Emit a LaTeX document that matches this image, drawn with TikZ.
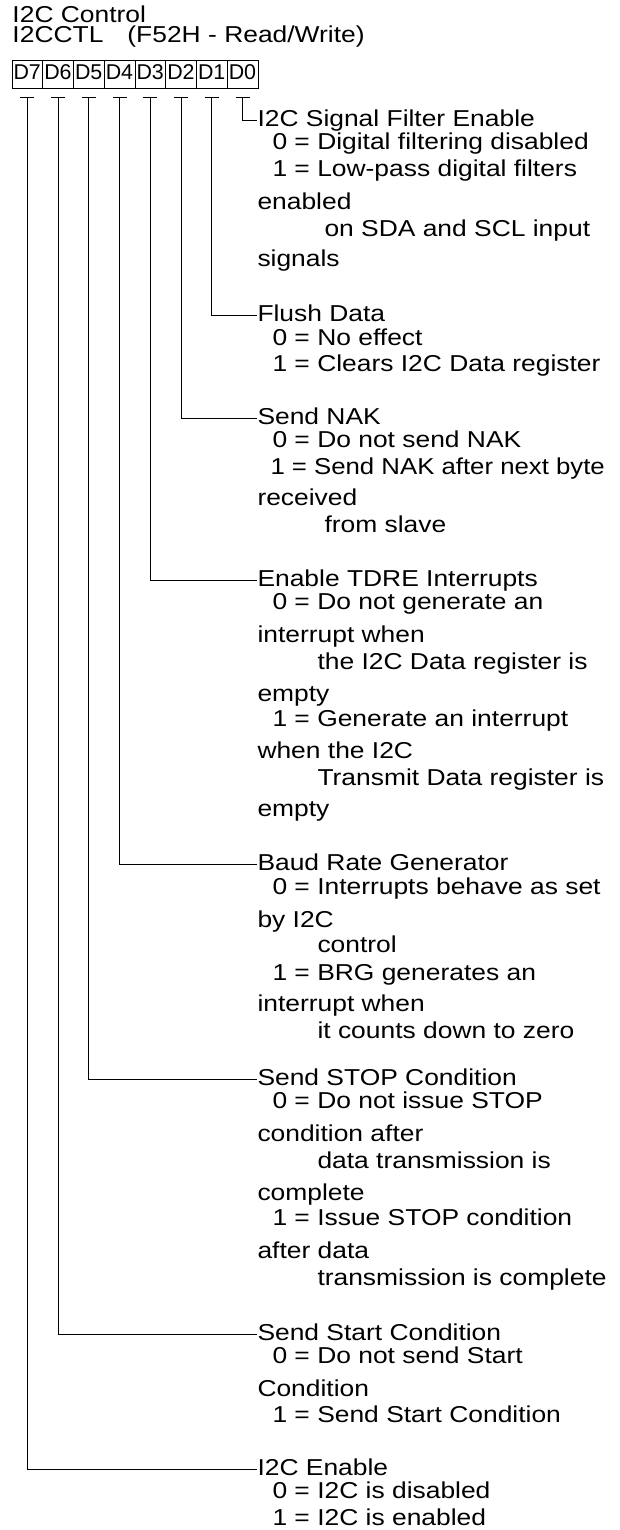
\documentclass[tikz,border=0pt]{standalone}
\usepackage{fontspec}
\setmainfont{Liberation Sans}
\usepackage{graphicx}
\newcommand{\wide}[1]{\scalebox{1.148}[1]{#1}}
\begin{document}
\begin{tikzpicture}[x=1pt,y=-1pt,line width=1pt,
  txt/.style={anchor=base west,inner sep=0pt,font=\fontsize{23}{27}\selectfont},
  bitlbl/.style={anchor=base west,inner sep=0pt,font=\fontsize{21.4}{24}\selectfont},
  cell/.style={draw,minimum width=30.75pt,minimum height=27.5pt,inner sep=0pt},
  wire/.style={line width=1pt}]
\useasboundingbox (0,0) rectangle (620,1530);
% title
\node[txt] (title) at (12,22.5) {\wide{I2C Control}};
\node[txt] (reg) at (12,43) {\wide{I2CCTL\hspace{20.9pt}(F52H - Read/Write)}};
% register cells and ticks
\foreach \n [count=\i from 0] in {7,6,5,4,3,2,1,0} {
  \node[cell] (b\n) at ({12+30.75*(\i+0.5)},74.75) {};
  \node[bitlbl] (l\n) at ({13+30.75*\i},79.3) {D\n};
  \coordinate (t\n) at ({12+30.75*(\i+0.5)},98);
  \draw[wire] ([xshift=-7pt]t\n) -- ([xshift=7pt]t\n);
}
% D0
\node[txt] (h0) at (257,126.7) {\wide{I2C Signal Filter Enable}};
\node[txt] (a0) at (272,150) {\wide{0 = Digital filtering disabled}};
\node[txt] (a1) at (272,176.7) {\wide{1 = Low-pass digital filters}};
\node[txt] (a2) at (257,210) {\wide{enabled}};
\node[txt] (a3) at (324,236.7) {\wide{on SDA and SCL input}};
\node[txt] (a4) at (257,266.7) {\wide{signals}};
% D1
\node[txt] (h1) at (257,321.7) {\wide{Flush Data}};
\node[txt] (c0) at (272,345) {\wide{0 = No effect}};
\node[txt] (c1) at (272,371.7) {\wide{1 = Clears I2C Data register}};
% D2
\node[txt] (h2) at (257,424) {\wide{Send NAK}};
\node[txt] (d0) at (272,447.3) {\wide{0 = Do not send NAK}};
\node[txt] (d1) at (270,474) {\scalebox{1.12}[1]{1 = Send NAK after next byte}};
\node[txt] (d2) at (257,505.5) {\wide{received}};
\node[txt] (d3) at (324,532) {\wide{from slave}};
% D3
\node[txt] (h3) at (257,586) {\wide{Enable TDRE Interrupts}};
\node[txt] (e0) at (272,609.3) {\wide{0 = Do not generate an}};
\node[txt] (e1) at (257,642.7) {\wide{interrupt when}};
\node[txt] (e2) at (317,669.3) {\wide{the I2C Data register is}};
\node[txt] (e3) at (257,701.7) {\wide{empty}};
\node[txt] (e4) at (272,726.7) {\wide{1 = Generate an interrupt}};
\node[txt] (e5) at (257,758.3) {\wide{when the I2C}};
\node[txt] (e6) at (317,785) {\wide{Transmit Data register is}};
\node[txt] (e7) at (257,816.7) {\wide{empty}};
% D4
\node[txt] (h4) at (257,870) {\wide{Baud Rate Generator}};
\node[txt] (f0) at (272,894) {\wide{0 = Interrupts behave as set}};
\node[txt] (f1) at (257,927.3) {\wide{by I2C}};
\node[txt] (f2) at (317,952.7) {\wide{control}};
\node[txt] (f3) at (272,980) {\wide{1 = BRG generates an}};
\node[txt] (f4) at (257,1011.7) {\wide{interrupt when}};
\node[txt] (f5) at (317,1038.3) {\wide{it counts down to zero}};
% D5
\node[txt] (h5) at (257,1085) {\wide{Send STOP Condition}};
\node[txt] (g0) at (272,1108.3) {\wide{0 = Do not issue STOP}};
\node[txt] (g1) at (257,1141.7) {\wide{condition after}};
\node[txt] (g2) at (317,1168.3) {\wide{data transmission is}};
\node[txt] (g3) at (257,1200) {\wide{complete}};
\node[txt] (g4) at (272,1225.7) {\wide{1 = Issue STOP condition}};
\node[txt] (g5) at (257,1258.3) {\wide{after data}};
\node[txt] (g6) at (317,1285) {\wide{transmission is complete}};
% D6
\node[txt] (h6) at (257,1340) {\wide{Send Start Condition}};
\node[txt] (k0) at (272,1363.3) {\wide{0 = Do not send Start}};
\node[txt] (k1) at (257,1396.7) {\wide{Condition}};
\node[txt] (k2) at (272,1422) {\wide{1 = Send Start Condition}};
% D7
\node[txt] (h7) at (257,1475) {\wide{I2C Enable}};
\node[txt] (m0) at (272,1498.3) {\wide{0 = I2C is disabled}};
\node[txt] (m1) at (272,1525) {\wide{1 = I2C is enabled}};
% connectors
\foreach \n in {0,...,7} {
  \draw[wire] (t\n) |- ([yshift=6pt]h\n.base west);
}
\end{tikzpicture}
\end{document}
